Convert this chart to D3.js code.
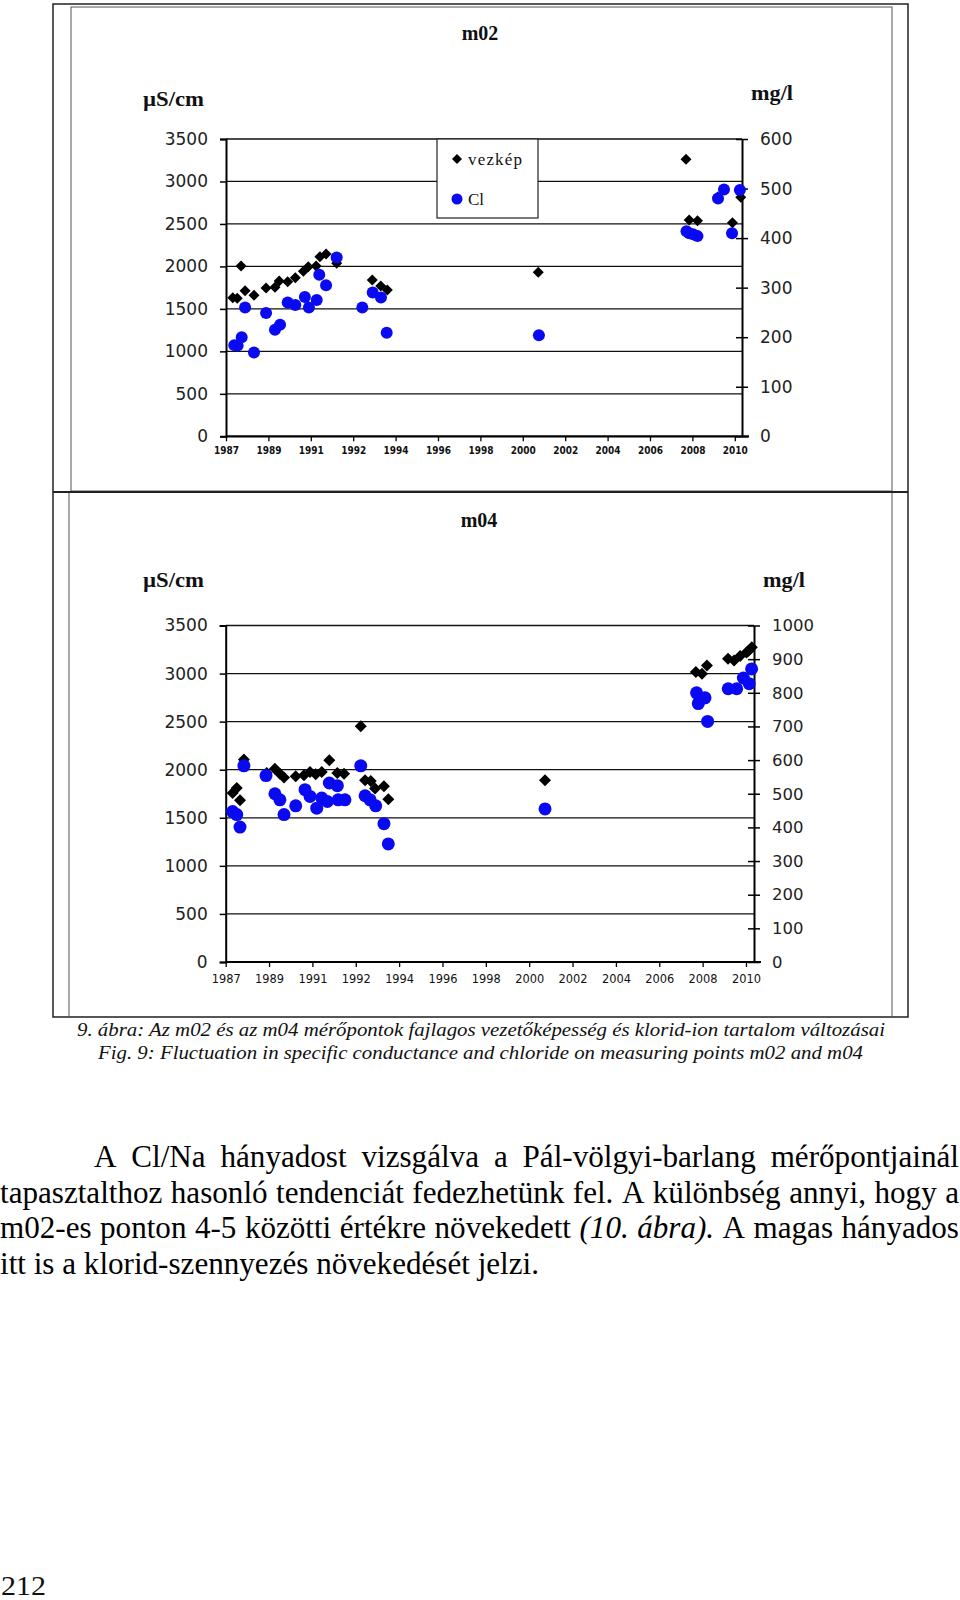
<!DOCTYPE html>
<html><head><meta charset="utf-8">
<script src="https://cdn.jsdelivr.net/npm/d3@7"></script>
<style>body{margin:0;background:#fff} svg{display:block}</style>
</head><body>
<svg id="c" width="960" height="1600"></svg>
<script>
// ---------- DATA ----------
const xTickPos = [1987,1989,1991,1993,1995,1997,1999,2001,2003,2005,2007,2009,2011];
const xTickLabels = ["1987","1989","1991","1992","1994","1996","1998","2000","2002","2004","2006","2008","2010"];
const leftTicks = [0,500,1000,1500,2000,2500,3000,3500];
const m02RightTicks = [0,100,200,300,400,500,600];
const m04RightTicks = [0,100,200,300,400,500,600,700,800,900,1000];
const seriesNames = ["vezkép","Cl"];

const m02CondX = [1987.32,1987.53,1987.71,1987.90,1988.32,1988.89,1989.31,1989.51,1989.91,1990.27,1990.65,1990.88,1991.25,1991.43,1991.72,1992.22,1993.90,1994.30,1994.61,2001.73,2008.70,2008.85,2009.24,2010.19,2010.89,2011.28];
const m02Cond  = [1632,1625,2005,1714,1660,1746,1754,1828,1820,1867,1943,1997,2005,2114,2146,2037,1840,1770,1722,1931,3261,2546,2538,2817,2515,2814];
const m02ClX = [1987.39,1987.55,1987.74,1987.90,1988.32,1988.89,1989.31,1989.55,1989.91,1990.27,1990.72,1990.91,1991.28,1991.40,1991.72,1992.22,1993.43,1993.92,1994.31,1994.58,2001.76,2008.72,2008.85,2009.03,2009.24,2010.21,2010.49,2010.87,2011.24];
const m02Cl  = [184,183,200,260,169,249,215,225,270,265,281,260,275,326,305,361,260,290,280,209,204,414,410,408,404,480,498,410,497];

const m04CondX = [1987.32,1987.51,1987.66,1987.84,1988.89,1989.27,1989.50,1989.69,1990.23,1990.61,1990.89,1991.15,1991.43,1991.78,1992.15,1992.46,1993.23,1993.43,1993.69,1993.89,1994.30,1994.50,2001.73,2008.69,2008.97,2009.20,2010.17,2010.45,2010.73,2011.02,2011.11,2011.27];
const m04Cond  = [1758,1810,1682,2105,1966,2011,1959,1918,1932,1942,1977,1952,1977,2098,1966,1959,2451,1890,1883,1804,1828,1693,1890,3017,2998,3084,3154,3136,3183,3219,3235,3274];
const m04ClX = [1987.32,1987.51,1987.66,1987.84,1988.86,1989.27,1989.50,1989.69,1990.23,1990.66,1990.89,1991.20,1991.43,1991.69,1991.78,1992.15,1992.19,1992.50,1993.23,1993.43,1993.66,1993.92,1994.30,1994.50,2001.73,2008.72,2008.80,2008.88,2009.11,2009.23,2010.18,2010.57,2010.88,2011.15,2011.26];
const m04Cl  = [447,438,401,583,554,500,482,438,464,512,492,457,487,477,532,524,482,482,583,494,482,464,411,351,455,800,768,780,785,715,812,812,844,827,871];

const captionLines = [
  "9. ábra: Az m02 és az m04 mérőpontok fajlagos vezetőképesség és klorid-ion tartalom változásai",
  "Fig. 9: Fluctuation in specific conductance and chloride on measuring points m02 and m04"
];
const paragraph = [
  [["A",0],["Cl/Na",0],["hányadost",0],["vizsgálva",0],["a",0],["Pál-völgyi-barlang",0],["mérőpontjainál",0]],
  [["tapasztalthoz",0],["hasonló",0],["tendenciát",0],["fedezhetünk",0],["fel.",0],["A",0],["különbség",0],["annyi,",0],["hogy",0],["a",0]],
  [["m02-es",0],["ponton",0],["4-5",0],["közötti",0],["értékre",0],["növekedett",0],["(10.",1],["ábra).",1],["A",0],["magas",0],["hányados",0]],
  [["itt",0],["is",0],["a",0],["klorid-szennyezés",0],["növekedését",0],["jelzi.",0]]
];
const pageNumber = "212";

// ---------- DRAW ----------
const svg = d3.select("#c");
const SERIF = "'Liberation Serif','Times New Roman',serif";
const SANS = "'DejaVu Sans',Verdana,sans-serif";
const SANSC = "'DejaVu Sans Condensed','DejaVu Sans',sans-serif";
const BLUE = "#0a0af2";

// frames
svg.append("rect").attr("x",53).attr("y",4).attr("width",855).attr("height",1013)
  .attr("fill","none").attr("stroke","#222").attr("stroke-width",1.5);
svg.append("rect").attr("x",71).attr("y",7).attr("width",821).attr("height",484)
  .attr("fill","none").attr("stroke","#555").attr("stroke-width",1);
svg.append("rect").attr("x",69).attr("y",492).attr("width",823).attr("height",525)
  .attr("fill","none").attr("stroke","#555").attr("stroke-width",1);
svg.append("line").attr("x1",53).attr("x2",908).attr("y1",492).attr("y2",492)
  .attr("stroke","#222").attr("stroke-width",2);

function diamond(r){ return `M0,${-r}L${r},0L0,${r}L${-r},0Z`; }

function drawChart(c){
  const x = d3.scaleLinear().domain([1987, c.xMax]).range([c.x0, c.x1]);
  const yL = d3.scaleLinear().domain([0,3500]).range([c.y0, c.y1]);
  const yR = d3.scaleLinear().domain([0,c.rMax]).range([c.y0, c.y1]);
  const g = svg.append("g");

  // gridlines
  g.selectAll(".grid").data(leftTicks.filter(d=>d>0)).join("line")
    .attr("x1",c.x0).attr("x2",c.x1).attr("y1",d=>yL(d)).attr("y2",d=>yL(d))
    .attr("stroke","#111").attr("stroke-width",1.3);

  // left axis
  const la = g.append("g").attr("transform",`translate(${c.x0},0)`)
    .call(d3.axisLeft(yL).tickValues(leftTicks).tickSize(6).tickPadding(12).tickFormat(d3.format("d")));
  la.select(".domain").attr("stroke","#000").attr("stroke-width",2);
  la.selectAll(".tick line").attr("stroke","#000").attr("stroke-width",1.5);
  la.selectAll("text").attr("font-family",SANS).attr("font-size",17).attr("fill","#222");

  // right axis
  const ra = g.append("g").attr("transform",`translate(${c.x1},0)`)
    .call(d3.axisRight(yR).tickValues(c.rTicks).tickSizeInner(6).tickSizeOuter(0).tickPadding(12).tickFormat(d3.format("d")));
  ra.select(".domain").attr("stroke","#000").attr("stroke-width",2);
  ra.selectAll(".tick line").attr("stroke","#000").attr("stroke-width",1.5).attr("x1",-6);
  ra.selectAll("text").attr("font-family",SANS).attr("font-size",c.rFont).attr("fill","#222");

  // bottom axis
  const ba = g.append("g").attr("transform",`translate(0,${c.y0})`)
    .call(d3.axisBottom(x).tickValues(xTickPos).tickSize(5).tickSizeOuter(0).tickPadding(c.xPad)
      .tickFormat((d,i)=>xTickLabels[i]));
  ba.select(".domain").attr("stroke","#000").attr("stroke-width",2.2)
    .attr("d",`M${c.x0},0H${c.x1+7}`);
  ba.selectAll(".tick line").attr("stroke","#000").attr("stroke-width",1.3);
  ba.selectAll("text").attr("font-family",SANSC).attr("font-size",c.xFont).attr("fill","#111")
    .attr("font-weight",c.xBold?"bold":"normal")
    .attr("textLength",c.xLen).attr("lengthAdjust","spacingAndGlyphs");

  // series
  g.selectAll(".dia").data(c.condX.map((d,i)=>[d,c.cond[i]])).join("path")
    .attr("d",diamond(c.dr)).attr("fill","#000")
    .attr("transform",d=>`translate(${x(d[0])},${yL(d[1])})`);
  g.selectAll(".cir").data(c.clX.map((d,i)=>[d,c.cl[i]])).join("circle")
    .attr("cx",d=>x(d[0])).attr("cy",d=>yR(d[1])).attr("r",c.cr).attr("fill",BLUE);

  // titles
  svg.append("text").attr("x",c.tx).attr("y",c.ty).attr("text-anchor","middle")
    .attr("font-family",SERIF).attr("font-weight","bold").attr("font-size",20).attr("fill","#111").text(c.title);
  svg.append("text").attr("x",143).attr("y",c.uy).attr("font-family",SERIF).attr("font-weight","bold")
    .attr("font-size",20).attr("fill","#111").attr("textLength",61).attr("lengthAdjust","spacingAndGlyphs").text("µS/cm");
  svg.append("text").attr("x",c.rux).attr("y",c.ruy).attr("font-family",SERIF).attr("font-weight","bold")
    .attr("font-size",20).attr("fill","#111").attr("textLength",42).attr("lengthAdjust","spacingAndGlyphs").text("mg/l");

  if(c.legend){
    const lg = svg.append("g");
    lg.append("rect").attr("x",437).attr("y",139).attr("width",101).attr("height",79)
      .attr("fill","#fff").attr("stroke","#222").attr("stroke-width",1.2);
    lg.append("path").attr("d",diamond(5)).attr("fill","#000").attr("transform","translate(457,159)");
    lg.append("circle").attr("cx",457).attr("cy",199).attr("r",5.5).attr("fill",BLUE);
    lg.append("text").attr("x",468).attr("y",165).attr("font-family",SERIF).attr("font-size",17)
      .attr("fill","#111").attr("textLength",54).attr("lengthAdjust","spacing").text(seriesNames[0]);
    lg.append("text").attr("x",468).attr("y",205).attr("font-family",SERIF).attr("font-size",17)
      .attr("fill","#111").text(seriesNames[1]);
  }
}

drawChart({x0:226,x1:742,xMax:2011.34,y0:436.3,y1:139,rMax:600,rTicks:m02RightTicks,rFont:17,
  xFont:11,xLen:25,xPad:5,xBold:true,condX:m02CondX,cond:m02Cond,clX:m02ClX,cl:m02Cl,dr:5.5,cr:6,
  title:"m02",tx:480,ty:40,uy:106,rux:751,ruy:100,legend:true});
drawChart({x0:225.7,x1:754,xMax:2011.37,y0:962,y1:625.5,rMax:1000,rTicks:m04RightTicks,rFont:16.5,
  xFont:13,xLen:29,xPad:7,xBold:false,condX:m04CondX,cond:m04Cond,clX:m04ClX,cl:m04Cl,dr:6,cr:6.5,
  title:"m04",tx:479,ty:527,uy:587,rux:763,ruy:587,legend:false});

// captions
svg.append("text").attr("x",77).attr("y",1036).attr("font-family",SERIF).attr("font-style","italic")
  .attr("font-size",19).attr("fill","#111").attr("textLength",808).attr("lengthAdjust","spacingAndGlyphs").text(captionLines[0]);
svg.append("text").attr("x",98).attr("y",1059).attr("font-family",SERIF).attr("font-style","italic")
  .attr("font-size",19).attr("fill","#111").attr("textLength",765).attr("lengthAdjust","spacingAndGlyphs").text(captionLines[1]);

// paragraph
const PF = 31;
const meas = svg.append("text").attr("font-family",SERIF).attr("font-size",PF).attr("x",-1000).attr("y",-1000);
function wWidth(w){ meas.attr("font-style", w[1]?"italic":"normal").text(w[0]); return meas.node().getComputedTextLength(); }
meas.attr("font-style","normal").text("a a"); const twoA = meas.node().getComputedTextLength();
meas.text("aa"); const spaceW = twoA - meas.node().getComputedTextLength();
const l4 = paragraph[3];
const l4nat = d3.sum(l4, wWidth) + spaceW*(l4.length-1);
const cx = 539 / l4nat;
const lineSpec = [[94,959,1167,true],[0,959,1203,true],[0,959,1238,true],[0,539,1274,false]];
paragraph.forEach((words,li)=>{
  const [x0,x1,y,just] = lineSpec[li];
  const ws = words.map(wWidth);
  const total = d3.sum(ws);
  const gap = just ? ((x1-x0)/cx - total)/(words.length-1) : spaceW;
  const g = svg.append("g").attr("transform",`scale(${cx},1)`);
  let pos = x0/cx;
  words.forEach((w,i)=>{
    g.append("text").attr("x",pos).attr("y",y).attr("font-family",SERIF).attr("font-size",PF)
      .attr("font-style",w[1]?"italic":"normal").attr("fill","#000").text(w[0]);
    pos += ws[i] + gap;
  });
});
meas.remove();

svg.append("text").attr("x",1).attr("y",1595).attr("font-family",SERIF).attr("font-size",27)
  .attr("fill","#111").attr("textLength",45).attr("lengthAdjust","spacingAndGlyphs").text(pageNumber);
</script>
</body></html>
